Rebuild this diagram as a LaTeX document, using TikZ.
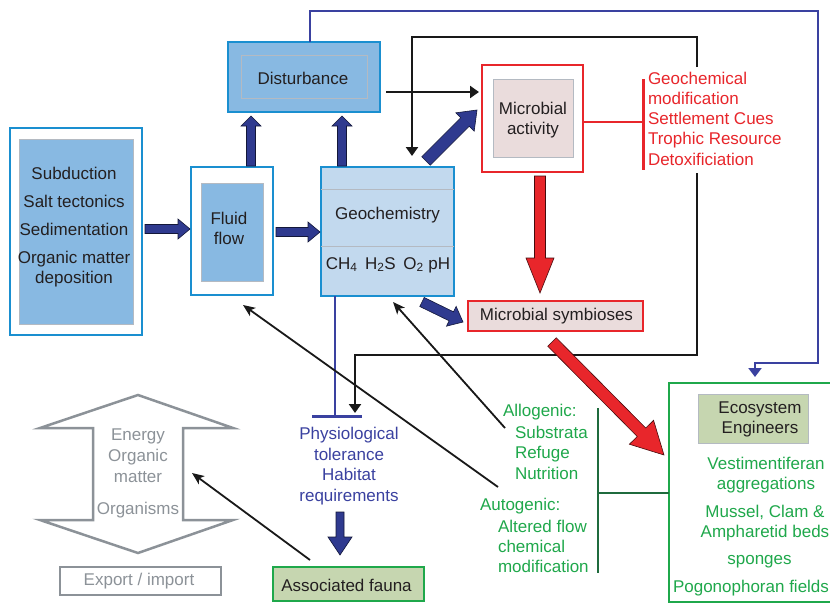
\documentclass[tikz,border=0pt]{standalone}
\usepackage{fontspec}
\setmainfont{Liberation Sans}
\usetikzlibrary{calc,arrows.meta}
\definecolor{boxblue}{HTML}{1A8FD0}
\definecolor{lblue}{HTML}{88B9E2}
\definecolor{gblue}{HTML}{C2D9EE}
\definecolor{navy}{HTML}{2F3A8F}
\definecolor{lnavy}{HTML}{3A41A0}
\definecolor{myred}{HTML}{E8262B}
\definecolor{pinkf}{HTML}{EADCDC}
\definecolor{mygreen}{HTML}{1FA84B}
\definecolor{dgreen}{HTML}{1F6B3D}
\definecolor{olive}{HTML}{C6D6B0}
\definecolor{mygray}{HTML}{8C9298}
\definecolor{ingray}{HTML}{B4BAC2}
\definecolor{txt}{HTML}{231F20}
% #1 style, #2 from, #3 to, #4 shaft half width, #5 head half width, #6 head length
\newcommand\blockarrow[6]{%
  \path ($(#3)!#6!(#2)$) coordinate (bahead);
  \filldraw[#1] ($(#2)!#4!90:(#3)$) -- ($(bahead)!#4!-90:(#2)$) -- ($(bahead)!#5!-90:(#2)$)
     -- (#3) -- ($(bahead)!#5!90:(#2)$) -- ($(bahead)!#4!90:(#2)$) -- ($(#2)!#4!-90:(#3)$) -- cycle;}
\begin{document}
\begin{tikzpicture}[x=1pt,y=-1pt,
  every node/.style={inner sep=0pt, outer sep=0pt, text=txt},
  font=\fontsize{17}{20.5}\selectfont,
  outerb/.style={rectangle, draw=boxblue, line width=2.5pt},
  innerb/.style={rectangle, draw=ingray, line width=0.8pt},
  navyarrow/.style={fill=navy, draw=black!60!navy, line width=0.6pt, line join=miter},
  redarrow/.style={fill=myred, draw=black!70!myred, line width=0.6pt, line join=miter},
  thinarrow/.style={black!90, line width=1.8pt, -{Stealth[length=12pt,width=10pt,inset=3pt]}},
  blackline/.style={black!90, line width=2.5pt},
  redtext/.style={text=myred},
  greentext/.style={text=mygreen},
  graytext/.style={text=mygray},
  bluetext/.style={text=lnavy}]
\useasboundingbox (0,0) rectangle (830,605);
\fill[white] (0,0) rectangle (830,605);

% ---- boxes ----
\node[outerb, minimum width=132pt, minimum height=207pt] (srcout) at (76,231.5) {};
\node[innerb, fill=lblue, minimum width=114pt, minimum height=185pt] (srcin) at (76,231.5) {};
\node[align=center] (srctxt) at (74,227) {Subduction\\[7.5pt]Salt tectonics\\[7.5pt]Sedimentation\\[7.5pt]Organic matter\\deposition};

\node[outerb, minimum width=82pt, minimum height=128pt] (fluidout) at (232,231) {};
\node[innerb, fill=lblue, minimum width=62pt, minimum height=98pt] (fluidin) at (232,232) {};
\node[align=center] (fluidtxt) at (229,228.5) {Fluid\\flow};

\node[outerb, fill=gblue, minimum width=133pt, minimum height=129pt] (geo) at (387.5,231.5) {};
\draw[ingray, line width=0.8pt] (geo.west |- 0,189) -- (geo.east |- 0,189);
\draw[ingray, line width=0.8pt] (geo.west |- 0,246) -- (geo.east |- 0,246);
\node (geotxt) at (387.5,215) {Geochemistry};
\node (geochem) at (388,265) {CH\textsubscript{4}\, H\textsubscript{2}S\, O\textsubscript{2} pH};

\node[outerb, fill=lblue, minimum width=152pt, minimum height=70pt] (distout) at (304,77) {};
\node[innerb, minimum width=126pt, minimum height=43pt] (distin) at (304,76.5) {};
\node (disttxt) at (303,78) {Disturbance};

\node[rectangle, draw=myred, line width=2.5pt, minimum width=101pt, minimum height=107pt] (maout) at (532.5,118.5) {};
\node[innerb, fill=pinkf, minimum width=80pt, minimum height=78pt] (main) at (533,118) {};
\node[align=center] (matxt) at (533,120) {Microbial\\activity};

\node[redtext, anchor=west, align=left, font=\fontsize{17}{20.25}\selectfont] (redtxt) at (648,118.5)
  {Geochemical\\modification\\Settlement Cues\\Trophic Resource\\Detoxificiation};

\node[rectangle, draw=myred, line width=2pt, fill=pinkf, minimum width=175pt, minimum height=30pt] (sym) at (555.5,316) {};
\node (symtxt) at (556.5,316) {Microbial symbioses};

\node[rectangle, draw=mygreen, line width=2.5pt, minimum width=163pt, minimum height=219pt] (eco) at (750.5,492.5) {};
\node[innerb, fill=olive, minimum width=110pt, minimum height=49pt] (ecoin) at (753,418.5) {};
\node[align=center, font=\fontsize{17}{19.5}\selectfont] (ecotxt) at (760,419.5) {Ecosystem\\Engineers};
\node[greentext, align=center] (vest) at (766,475) {Vestimentiferan\\aggregations};
\node[greentext, align=center] (muss) at (765,523) {Mussel, Clam \&\\Ampharetid beds};
\node[greentext] (spong) at (759.5,562) {sponges};
\node[greentext] (pogo) at (751,588) {Pogonophoran fields};

\node[rectangle, draw=mygreen, line width=2.5pt, fill=olive, minimum width=151pt, minimum height=34pt] (fauna) at (348.5,584) {};
\node (faunatxt) at (346.5,585) {Associated fauna};

\node[rectangle, draw=mygray, line width=2.5pt, minimum width=161pt, minimum height=28pt] (export) at (140.5,581) {};
\node[graytext] (exporttxt) at (139,581) {Export / import};

% gray double arrow
\draw[mygray, line width=2.5pt, line join=miter] (138,395) -- (233,428) -- (183,428) -- (183,520) -- (233,520)
  -- (138,553) -- (40,520) -- (93,520) -- (93,428) -- (40,428) -- cycle;
\node[graytext, align=center, font=\fontsize{17}{21}\selectfont] (energy) at (138,456) {Energy\\Organic\\matter};
\node[graytext] (organisms) at (138,510) {Organisms};
\coordinate (dbl) at (192,473);

% blue physiological text and T-bar
\node[bluetext, align=center, font=\fontsize{17}{20.7}\selectfont] (phys) at (349,466) {Physiological\\tolerance\\Habitat\\requirements};
\coordinate (tbar) at (335,416);
\draw[lnavy, line width=2pt] (geo.south -| tbar) -- (tbar);
\draw[lnavy, line width=3pt] ($(tbar)+(-23,0)$) -- ($(tbar)+(27,0)$);

% green texts and bracket
\node[greentext, anchor=west] (allo) at (503,412) {Allogenic:};
\node[greentext, anchor=west, align=left] (allolist) at (515,452.5) {Substrata\\Refuge\\Nutrition};
\node[greentext, anchor=west] (auto) at (480,506) {Autogenic:};
\node[greentext, anchor=west, align=left, font=\fontsize{17}{20}\selectfont] (autolist) at (498,546) {Altered flow\\chemical\\modification};
\coordinate (gbr) at (598,493);
\draw[dgreen, line width=2.5pt] (598,408) -- (598,573);
\draw[dgreen, line width=2.5pt] (gbr) -- (eco.west |- gbr);

% red bracket
\coordinate (rbr) at (643,122);
\draw[myred, line width=2.5pt] (maout.east |- rbr) -- (rbr);
\draw[myred, line width=3pt] (643,79) -- (643,170);

% black feedback loop
\coordinate (bk1) at (697,67);
\coordinate (bk2) at (412,156);
\coordinate (bk3) at (697,173);
\coordinate (bk4) at (355,413);
\draw[blackline, -{Triangle[length=9pt,width=12pt]}] (bk1) -- (697,37) -- (412,37) -- (bk2);
\draw[blackline, -{Triangle[length=9pt,width=12pt]}] (bk3) -- (697,355) -- (355,355) -- (bk4);

% blue loop
\coordinate (bl1) at (310,42);
\coordinate (bl2) at (755,377);
\draw[lnavy, line width=2.2pt, -{Triangle[length=9pt,width=13pt]}] (bl1) -- (310,11) -- (818,11) -- (818,363) -- (755,363) -- (bl2);

% black arrow disturbance -> microbial activity
\coordinate (dm1) at (386,92);
\coordinate (dm2) at (479,92);
\draw[black!90, line width=2.2pt, -{Triangle[length=9pt,width=12pt]}] (dm1) -- (dm2);

% thin black arrows
\coordinate (t1s) at (505,428); \coordinate (t1e) at (393,302);
\coordinate (t2s) at (498,487); \coordinate (t2e) at (243,305);
\coordinate (t3s) at (310,560);
\draw[thinarrow] (t1s) -- (t1e);
\draw[thinarrow] (t2s) -- (t2e);
\draw[thinarrow] (t3s) -- (dbl);

% block arrows
\coordinate (b1s) at (145,229); \coordinate (b1e) at (190,229);
\coordinate (b2s) at (276,232); \coordinate (b2e) at (320,232);
\coordinate (b3s) at (251,166); \coordinate (b3e) at (251,116);
\coordinate (b4s) at (342,166); \coordinate (b4e) at (342,116);
\coordinate (b5s) at (426,161); \coordinate (b5e) at (477,110);
\coordinate (b6s) at (422,302); \coordinate (b6e) at (463,322);
\coordinate (b7s) at (340,512); \coordinate (b7e) at (340,555);
\coordinate (r1s) at (540,176); \coordinate (r1e) at (540,293);
\coordinate (r2s) at (552,342); \coordinate (r2e) at (664,455);
\blockarrow{navyarrow}{b1s}{b1e}{4.5pt}{10pt}{12pt}
\blockarrow{navyarrow}{b2s}{b2e}{4.5pt}{10pt}{12pt}
\blockarrow{navyarrow}{b3s}{b3e}{4.5pt}{10pt}{10pt}
\blockarrow{navyarrow}{b4s}{b4e}{4.5pt}{10pt}{10pt}
\blockarrow{navyarrow}{b5s}{b5e}{6pt}{13pt}{17pt}
\blockarrow{navyarrow}{b6s}{b6e}{5pt}{11pt}{13pt}
\blockarrow{navyarrow}{b7s}{b7e}{4pt}{12pt}{18pt}
\blockarrow{redarrow}{r1s}{r1e}{5.5pt}{14pt}{35pt}
\blockarrow{redarrow}{r2s}{r2e}{6pt}{17pt}{32pt}
\end{tikzpicture}
\end{document}
